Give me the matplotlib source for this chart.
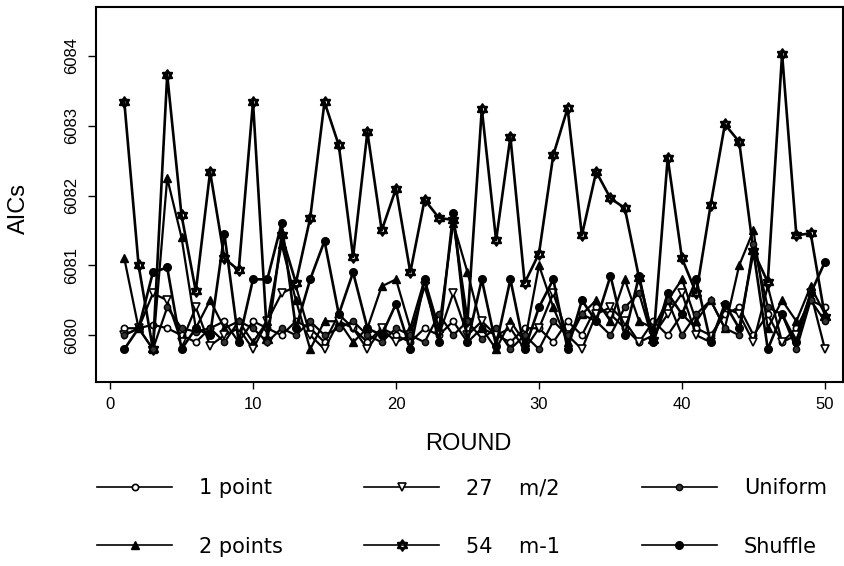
import matplotlib
matplotlib.use("Agg")
import matplotlib.pyplot as plt
from matplotlib.path import Path
import numpy as np

rounds = list(range(1, 51))

one_point = [6080.1, 6080.1, 6080.15, 6080.1, 6080.0, 6079.9, 6080.1, 6080.2, 6079.9, 6080.2,
             6080.1, 6080.0, 6080.2, 6080.1, 6079.9, 6080.3, 6080.1, 6079.9, 6080.1, 6080.0,
             6079.9, 6080.1, 6080.0, 6080.2, 6079.9, 6080.1, 6080.0, 6079.9, 6080.1, 6080.1,
             6079.9, 6080.2, 6080.0, 6080.4, 6080.3, 6080.1, 6079.9, 6080.2, 6080.0, 6080.3,
             6080.1, 6080.0, 6080.3, 6080.4, 6080.0, 6080.3, 6079.9, 6080.1, 6080.5, 6080.4]

two_points = [6081.1, 6080.1, 6079.8, 6082.25, 6081.4, 6080.1, 6080.5, 6080.1, 6080.2, 6079.9,
              6080.2, 6081.3, 6080.5, 6079.8, 6080.2, 6080.2, 6079.9, 6080.1, 6080.7, 6080.8,
              6080.1, 6080.8, 6080.1, 6081.6, 6080.9, 6080.1, 6079.8, 6080.2, 6079.9, 6081.0,
              6080.4, 6079.9, 6080.3, 6080.5, 6080.2, 6080.8, 6080.2, 6080.1, 6080.5, 6080.8,
              6080.2, 6080.5, 6080.1, 6081.0, 6081.5, 6080.1, 6080.5, 6080.2, 6080.7, 6080.3]

m_half = [6080.0, 6080.1, 6080.6, 6080.5, 6079.9, 6080.4, 6079.85, 6080.0, 6080.1, 6079.8,
          6080.2, 6080.6, 6080.7, 6080.0, 6079.8, 6080.2, 6080.1, 6079.8, 6080.1, 6079.9,
          6080.0, 6080.7, 6080.0, 6080.6, 6080.0, 6080.2, 6080.0, 6080.1, 6079.8, 6080.1,
          6080.6, 6080.0, 6079.8, 6080.3, 6080.4, 6080.2, 6079.9, 6080.0, 6080.3, 6080.6,
          6080.0, 6079.9, 6080.4, 6080.3, 6079.9, 6080.7, 6079.9, 6080.0, 6080.6, 6079.8]

m_minus1 = [6083.34, 6081.0, 6079.8, 6083.73, 6081.72, 6080.63, 6082.34, 6081.1, 6080.93, 6083.34,
            6079.93, 6081.43, 6080.75, 6081.68, 6083.34, 6082.72, 6081.12, 6082.91, 6081.5, 6082.1,
            6080.9, 6081.94, 6081.68, 6081.65, 6080.2, 6083.24, 6081.36, 6082.84, 6080.75, 6081.17,
            6082.58, 6083.25, 6081.43, 6082.34, 6081.96, 6081.82, 6080.82, 6079.93, 6082.54, 6081.1,
            6080.6, 6081.86, 6083.02, 6082.77, 6081.2, 6080.76, 6084.03, 6081.43, 6081.46, 6080.26]

uniform = [6080.0, 6080.1, 6079.8, 6080.4, 6080.1, 6080.05, 6080.1, 6079.9, 6080.2, 6080.1,
           6079.9, 6080.1, 6080.0, 6080.2, 6080.0, 6080.1, 6080.2, 6080.0, 6079.9, 6080.1,
           6080.0, 6079.9, 6080.3, 6080.0, 6080.2, 6079.95, 6080.1, 6079.8, 6080.0, 6079.8,
           6080.2, 6080.0, 6080.3, 6080.2, 6080.0, 6080.4, 6080.6, 6079.9, 6080.5, 6080.0,
           6080.3, 6080.5, 6080.1, 6080.0, 6081.3, 6080.4, 6080.3, 6079.8, 6080.5, 6080.2]

shuffle = [6079.8, 6080.1, 6080.9, 6080.97, 6079.8, 6080.1, 6080.0, 6081.45, 6079.9, 6080.8,
           6080.8, 6081.6, 6080.1, 6080.8, 6081.35, 6080.3, 6080.9, 6080.1, 6080.0, 6080.45,
           6079.8, 6080.8, 6079.9, 6081.75, 6079.9, 6080.8, 6079.85, 6080.8, 6079.8, 6080.4,
           6080.8, 6079.8, 6080.5, 6080.2, 6080.85, 6080.0, 6080.85, 6079.9, 6080.6, 6080.3,
           6080.8, 6079.9, 6080.45, 6080.1, 6081.2, 6079.8, 6080.3, 6079.9, 6080.6, 6081.05]

labels = ["1 point", "2 points", "27    m/2", "54    m-1", "Uniform", "Shuffle"]
x_ticks = [0, 10, 20, 30, 40, 50]
y_ticks = [6080, 6081, 6082, 6083, 6084]

# hexagram-like marker for m-1
up = [(0, 1), (0.87, -0.5), (-0.87, -0.5), (0, 1)]
dn = [(0, -1), (0.87, 0.5), (-0.87, 0.5), (0, -1)]
hexa = Path(up + dn, [Path.MOVETO, Path.LINETO, Path.LINETO, Path.CLOSEPOLY] * 2)

fig = plt.figure(figsize=(8.45, 5.66), dpi=100)
ax = fig.add_axes([96/845, 1 - 382/566, (843-96)/845, (382-7)/566])

lw = 1.6
ax.plot(rounds, one_point, color="black", lw=lw, marker="o", ms=4.5, mfc="white", mec="black", mew=1.2, label=labels[0])
ax.plot(rounds, two_points, color="black", lw=lw, marker="^", ms=5.5, mfc="black", mec="black", label=labels[1])
ax.plot(rounds, m_half, color="black", lw=lw, marker="v", ms=6, mfc="white", mec="black", mew=1.2, label=labels[2])
ax.plot(rounds, m_minus1, color="black", lw=lw + 0.3, marker=hexa, ms=7.5, mfc="#333333", mec="black", mew=1.6, label=labels[3])
ax.plot(rounds, uniform, color="black", lw=lw, marker="o", ms=4.5, mfc="#333333", mec="black", label=labels[4])
ax.plot(rounds, shuffle, color="black", lw=lw + 0.3, marker="o", ms=5.5, mfc="black", mec="black", label=labels[5])

ax.set_xlim(-0.98, 51.26)
ax.set_ylim(6079.33, 6084.70)
ax.set_xticks(x_ticks)
ax.set_yticks(y_ticks)
tick_font = {"family": "Liberation Sans", "size": 12}
ax.set_xticklabels([str(v) for v in x_ticks], fontdict=tick_font)
ax.set_yticklabels([str(v) for v in y_ticks], fontdict=tick_font, rotation=90, va="center")
ax.tick_params(axis="x", length=5, width=1, direction="out", pad=6)
ax.tick_params(axis="y", length=6, width=1, direction="out", pad=6)
for s in ax.spines.values():
    s.set_linewidth(1.5)

ax.set_xlabel("ROUND", fontsize=17, family="Liberation Sans")
ax.xaxis.set_label_coords((468 - 96) / 747, (382 - 433) / 375)
ax.set_ylabel("AICs", fontsize=17, family="Liberation Sans")
ax.yaxis.set_label_coords((30 - 96) / 747, (382 - 208) / 375)

handles, labs = ax.get_legend_handles_labels()
leg = fig.legend(handles, labs, loc="upper left", bbox_to_anchor=(97/845, 1 - 478/566),
                 ncol=3, frameon=False, prop={"family": "DejaVu Sans", "size": 15},
                 handlelength=3.6, handletextpad=1.3,
                 columnspacing=3.9, labelspacing=1.86, borderpad=0, borderaxespad=0)
for ln in leg.get_lines():
    ln.set_linewidth(1.2)

fig.savefig("out.png", dpi=100)
